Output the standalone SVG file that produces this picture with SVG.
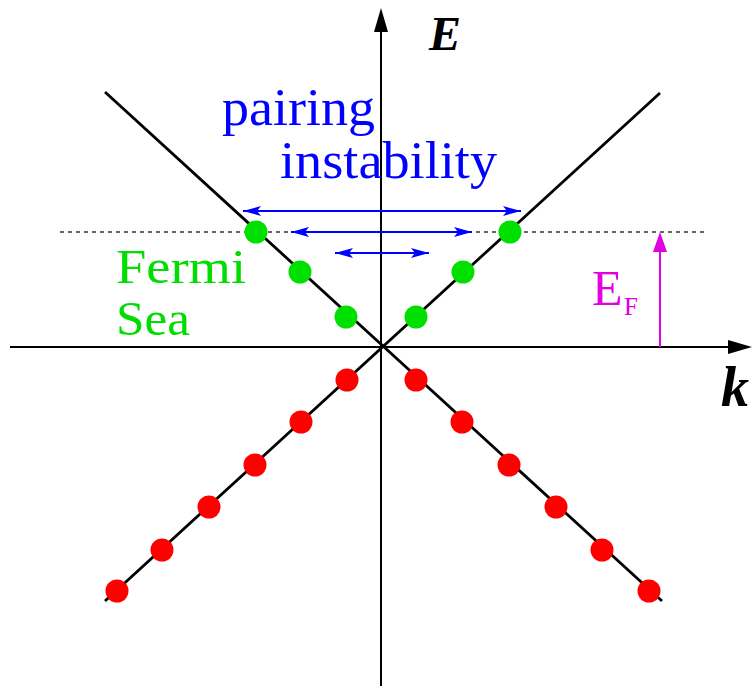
<svg xmlns="http://www.w3.org/2000/svg" width="752" height="686" viewBox="0 0 752 686">
<style>
.ax{stroke:#000;stroke-width:2;fill:none}
.ln{stroke:#000;stroke-width:2.8;fill:none}
.g{fill:#00e000}
.r{fill:#ff0000}
.ba{stroke:#0000ff;stroke-width:2;fill:none;marker-start:url(#bs);marker-end:url(#be)}
.t{font-family:"Liberation Serif",serif}
</style>
<defs>
<marker id="be" markerWidth="18" markerHeight="12" refX="18" refY="6" orient="auto" markerUnits="userSpaceOnUse"><path d="M0,1 L18,6 L0,11 L4,6 Z" fill="#0000ff"/></marker>
<marker id="bs" markerWidth="18" markerHeight="12" refX="0" refY="6" orient="auto" markerUnits="userSpaceOnUse"><path d="M18,1 L0,6 L18,11 L14,6 Z" fill="#0000ff"/></marker>
</defs>
<rect width="752" height="686" fill="#fff"/>
<g id="axes">
<line class="ax" x1="381" y1="28" x2="381" y2="686"/>
<path d="M381,8 L388,32 L374,32 Z" fill="#000"/>
<line class="ax" x1="10" y1="347" x2="732" y2="347"/>
<path d="M752,347 L728,340 L728,354 Z" fill="#000"/>
<text class="t" x="429" y="50" font-size="48" font-weight="bold" font-style="italic">E</text>
<text class="t" x="721" y="406" font-size="56" font-weight="bold" font-style="italic">k</text>
</g>
<g id="fermi-level">
<line x1="60" y1="232" x2="705" y2="232" stroke="#333" stroke-width="1.5" stroke-dasharray="4,4"/>
</g>
<g id="dispersion">
<line class="ln" x1="105" y1="92" x2="662" y2="601"/>
<line class="ln" x1="660" y1="93" x2="105" y2="601"/>
</g>
<g id="green-dots" class="g">
<circle cx="256" cy="232" r="11.5"/><circle cx="300" cy="272" r="11.5"/><circle cx="346" cy="317" r="11.5"/>
<circle cx="416" cy="317" r="11.5"/><circle cx="463" cy="272" r="11.5"/><circle cx="510" cy="232" r="11.5"/>
</g>
<g id="red-dots" class="r">
<circle cx="347" cy="380" r="11.5"/><circle cx="301" cy="422" r="11.5"/><circle cx="255" cy="465" r="11.5"/>
<circle cx="209" cy="507" r="11.5"/><circle cx="162" cy="550" r="11.5"/><circle cx="117" cy="591" r="11.5"/>
<circle cx="416" cy="380" r="11.5"/><circle cx="462" cy="422" r="11.5"/><circle cx="509" cy="465" r="11.5"/>
<circle cx="556" cy="507" r="11.5"/><circle cx="602" cy="550" r="11.5"/><circle cx="649" cy="591" r="11.5"/>
</g>
<g id="connectors">
<line class="ba" x1="243" y1="211" x2="521" y2="211"/>
<line class="ba" x1="291" y1="232" x2="472" y2="232"/>
<line class="ba" x1="335" y1="253" x2="429" y2="253"/>
<line x1="660" y1="347" x2="660" y2="245" stroke="#e000e0" stroke-width="2"/>
<path d="M660,232 L667,252 L653,252 Z" fill="#e000e0"/>
</g>
<g id="labels">
<text class="t" x="222" y="125" font-size="52" fill="#0000ff" textLength="153" lengthAdjust="spacingAndGlyphs">pairing</text>
<text class="t" x="280" y="178" font-size="52" fill="#0000ff" textLength="217" lengthAdjust="spacingAndGlyphs">instability</text>
<text class="t" x="116" y="283" font-size="48" fill="#00dd00" textLength="130" lengthAdjust="spacingAndGlyphs">Fermi</text>
<text class="t" x="116" y="335" font-size="48" fill="#00dd00" textLength="74" lengthAdjust="spacingAndGlyphs">Sea</text>
<text class="t" x="592" y="305" font-size="50" fill="#e000e0">E</text>
<text class="t" x="624" y="315" font-size="25" fill="#e000e0">F</text>
</g>
</svg>
